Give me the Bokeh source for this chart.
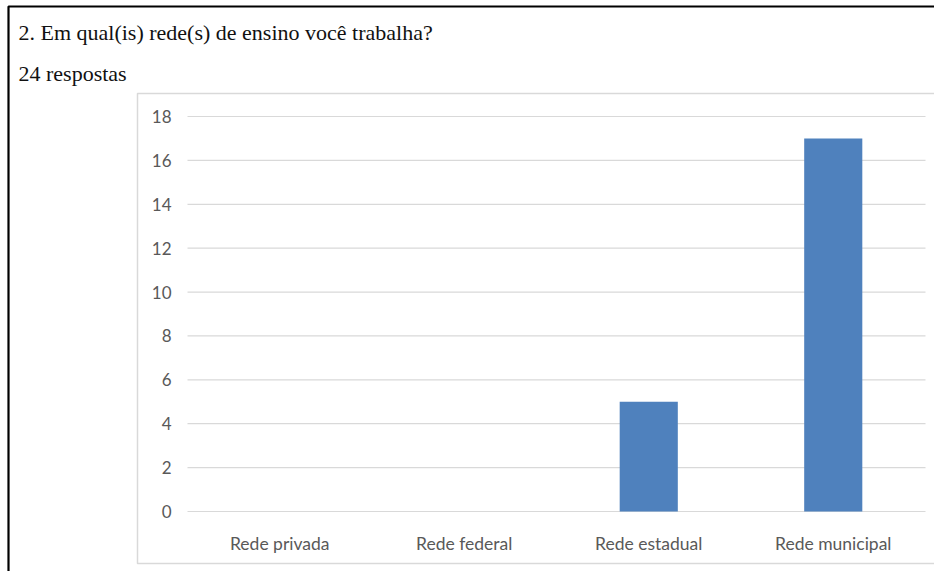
from bokeh.plotting import figure
from bokeh.models import Label, BoxAnnotation, Range1d, ColumnDataSource
from bokeh.core.properties import value
from bokeh.embed import file_html
from bokeh.resources import INLINE

title_text = "2. Em qual(is) rede(s) de ensino você trabalha?"
subtitle_text = "24 respostas"
categories = ["Rede privada", "Rede federal", "Rede estadual", "Rede municipal"]
counts = [0, 0, 5, 17]
y_ticks = [0, 2, 4, 6, 8, 10, 12, 14, 16, 18]

W, H = 934, 571
# plot-area geometry (pixels): categories span 187..925, values 0..18 span 511..116
PX_LEFT, PX_RIGHT, PX_ZERO, PX_TOP = 187, 925, 511, 116
n = len(categories)
ymax = y_ticks[-1]
px_per_cat = (PX_RIGHT - PX_LEFT) / n
px_per_unit = (PX_ZERO - PX_TOP) / ymax

x_range = Range1d(-PX_LEFT / px_per_cat, (W - PX_LEFT) / px_per_cat)
y_range = Range1d(-(H - PX_ZERO) / px_per_unit, PX_ZERO / px_per_unit)

p = figure(width=W, height=H, output_backend="svg", toolbar_location=None,
           x_range=x_range, y_range=y_range, x_axis_type=None, y_axis_type=None,
           min_border=0, min_border_left=0, min_border_right=0, min_border_top=0, min_border_bottom=0)
p.outline_line_color = None
p.background_fill_color = "white"
p.border_fill_color = "white"
p.grid.visible = False

xpos = [i + 0.5 for i in range(n)]
src = ColumnDataSource(dict(x=xpos, cat=categories, val=counts))
tick_src = ColumnDataSource(dict(y=y_ticks, lab=[str(t) for t in y_ticks]))

font = value("Lato")
grid_col = "#D9D9D9"
label_col = "#595959"

# chart box
p.add_layout(BoxAnnotation(left=137, right=W + 20, top=H - 93, bottom=H - 563,
                           left_units="screen", right_units="screen", top_units="screen", bottom_units="screen",
                           fill_color=None, fill_alpha=0, line_color=grid_col, line_alpha=1.0,
                           line_width=1.5, level="underlay"))

# grid lines
p.segment(x0=0, x1=n, y0="y", y1="y", source=tick_src, line_color=grid_col, line_width=1.2)

# bars
p.vbar(x="x", top="val", width=0.315, source=src, fill_color="#4F81BD", line_color=None)

# y tick labels
p.text(x=0, y="y", text="lab", source=tick_src, x_offset=-16, text_align="right",
       text_baseline="middle", text_font=font, text_font_size="17px", text_color=label_col)
# category labels
p.text(x="x", y=0, text="cat", source=src, y_offset=32, text_align="center",
       text_baseline="alphabetic", text_font=font, text_font_size="17.5px", text_color=label_col)

# outer border (top and left)
p.add_layout(BoxAnnotation(left=8, right=W + 50, top=H - 6, bottom=-50,
                           left_units="screen", right_units="screen", top_units="screen", bottom_units="screen",
                           fill_color=None, fill_alpha=0, line_color="black", line_alpha=1.0, line_width=2.2))

# header texts
p.add_layout(Label(x=18, y=H - 32, x_units="screen", y_units="screen", text=title_text,
                   text_font="Liberation Serif", text_font_size="22px", text_color="#111111",
                   text_baseline="alphabetic"))
p.add_layout(Label(x=18, y=H - 73, x_units="screen", y_units="screen", text=subtitle_text,
                   text_font="Liberation Serif", text_font_size="22px", text_color="#111111",
                   text_baseline="alphabetic"))

open("out.html", "w").write(file_html(p, INLINE))
